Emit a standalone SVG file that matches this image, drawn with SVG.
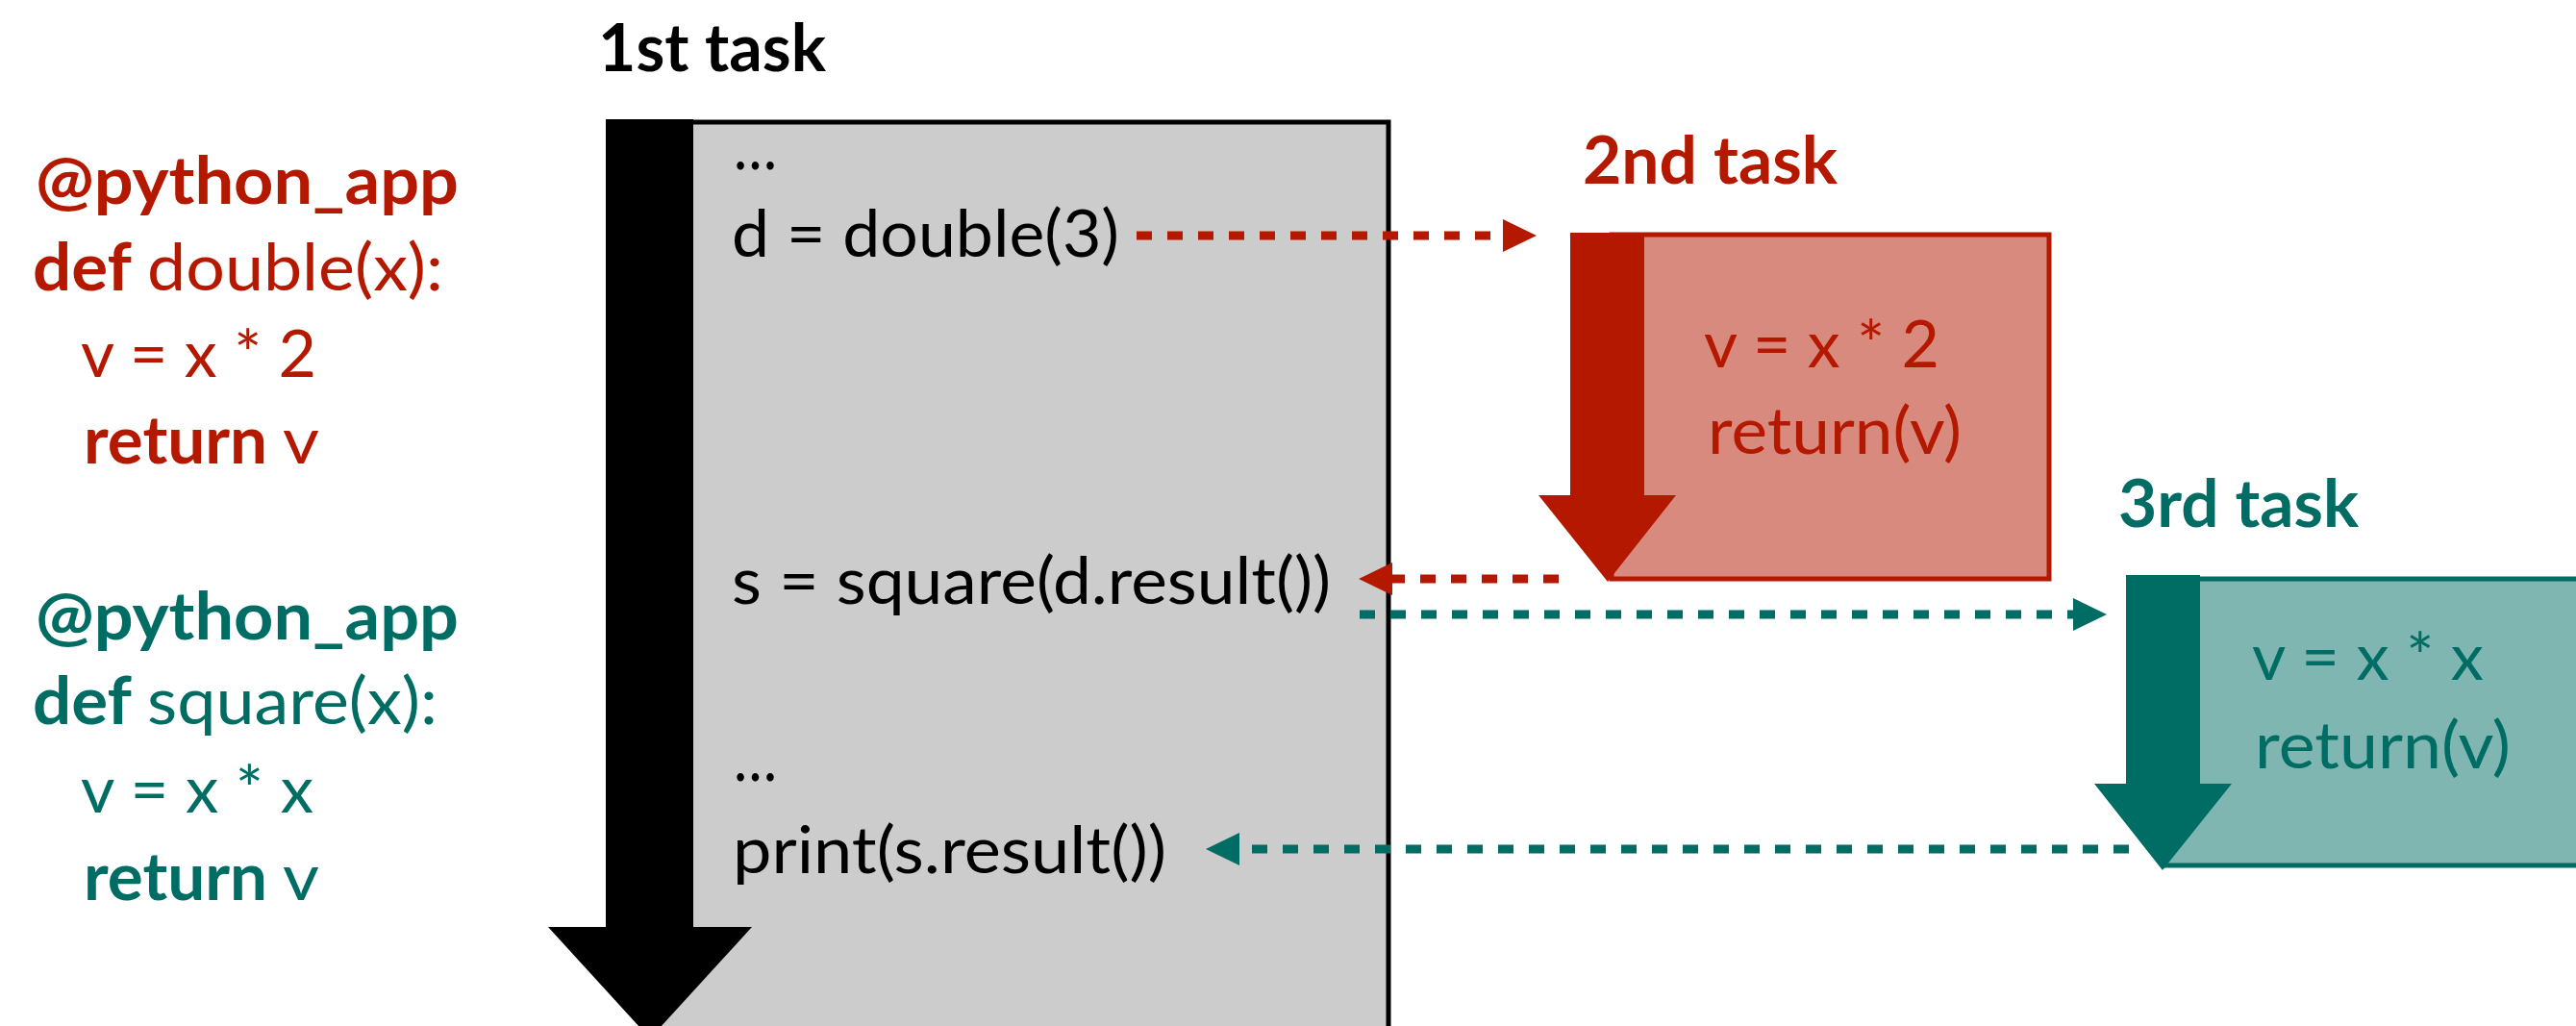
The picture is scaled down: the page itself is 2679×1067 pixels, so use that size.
<svg xmlns="http://www.w3.org/2000/svg" width="2679" height="1067" viewBox="0 0 2679 1067">
<style>
.t{font-family:Lato,"Liberation Sans",sans-serif;font-size:68px}
.b{font-weight:700}
.k{fill:#000}
.r{fill:#B41900}
.g{fill:#006D64}
.dr{fill:none;stroke:#B41900;stroke-width:9;stroke-dasharray:16 16}
.dg{fill:none;stroke:#006D64;stroke-width:9;stroke-dasharray:16 16}
</style>
<defs>
<marker id="ahR" viewBox="0 0 35 34" markerUnits="userSpaceOnUse" markerWidth="35" markerHeight="34" refX="0" refY="17" orient="auto"><path d="M0,0 L35,17 L0,34 Z" fill="#B41900"/></marker>
<marker id="ahG" viewBox="0 0 35 34" markerUnits="userSpaceOnUse" markerWidth="35" markerHeight="34" refX="0" refY="17" orient="auto"><path d="M0,0 L35,17 L0,34 Z" fill="#006D64"/></marker>
</defs>
<rect width="2679" height="1067" fill="#fff"/>

<g id="code-double">
<text class="t b r" x="37" y="212" textLength="440" lengthAdjust="spacingAndGlyphs">@python_app</text>
<text class="t b r" x="34" y="302" textLength="103" lengthAdjust="spacingAndGlyphs">def</text>
<text class="t r" x="153" y="302" textLength="308" lengthAdjust="spacingAndGlyphs">double(x):</text>
<text class="t r" x="84" y="392" textLength="245" lengthAdjust="spacingAndGlyphs">v = x * 2</text>
<text class="t b r" x="87" y="482" textLength="191" lengthAdjust="spacingAndGlyphs">return</text>
<text class="t r" x="294" y="482" textLength="38" lengthAdjust="spacingAndGlyphs">v</text>
</g>

<g id="code-square">
<text class="t b g" x="37" y="665" textLength="440" lengthAdjust="spacingAndGlyphs">@python_app</text>
<text class="t b g" x="34" y="753" textLength="103" lengthAdjust="spacingAndGlyphs">def</text>
<text class="t g" x="153" y="753" textLength="302" lengthAdjust="spacingAndGlyphs">square(x):</text>
<text class="t g" x="84" y="845" textLength="242" lengthAdjust="spacingAndGlyphs">v = x * x</text>
<text class="t b g" x="87" y="936" textLength="191" lengthAdjust="spacingAndGlyphs">return</text>
<text class="t g" x="294" y="936" textLength="38" lengthAdjust="spacingAndGlyphs">v</text>
</g>

<g id="task1">
<text class="t b k" x="622" y="74" textLength="237" lengthAdjust="spacingAndGlyphs">1st task</text>
<rect x="676" y="127" width="768" height="1000" fill="#CCCCCC" stroke="#000" stroke-width="5"/>
<path d="M630,124 H721 V964 H782 L676,1080 L570,964 H630 Z" fill="#000"/>
<text class="t k" x="763" y="176" textLength="45" lengthAdjust="spacingAndGlyphs">…</text>
<text class="t k" x="761" y="267" textLength="403" lengthAdjust="spacingAndGlyphs">d = double(3)</text>
<text class="t k" x="761" y="628" textLength="623" lengthAdjust="spacingAndGlyphs">s = square(d.result())</text>
<text class="t k" x="763" y="812" textLength="45" lengthAdjust="spacingAndGlyphs">…</text>
<text class="t k" x="762" y="908" textLength="451" lengthAdjust="spacingAndGlyphs">print(s.result())</text>
</g>

<g id="task2">
<text class="t b r" x="1646" y="191" textLength="265" lengthAdjust="spacingAndGlyphs">2nd task</text>
<rect x="1676" y="244" width="455" height="358" fill="#D98A7E" stroke="#B41900" stroke-width="5"/>
<path d="M1633,242 H1710 V515 H1743 L1672,605 L1600,515 H1633 Z" fill="#B41900"/>
<text class="t r" x="1772" y="382" textLength="245" lengthAdjust="spacingAndGlyphs">v = x * 2</text>
<text class="t r" x="1776" y="472" textLength="264" lengthAdjust="spacingAndGlyphs">return(v)</text>
</g>

<g id="task3">
<text class="t b g" x="2203" y="548" textLength="250" lengthAdjust="spacingAndGlyphs">3rd task</text>
<rect x="2250" y="602" width="460" height="298" fill="#80B6B1" stroke="#006D64" stroke-width="5"/>
<path d="M2211,598 H2288 V815 H2321 L2249,905 L2178,815 H2211 Z" fill="#006D64"/>
<text class="t g" x="2342" y="707" textLength="241" lengthAdjust="spacingAndGlyphs">v = x * x</text>
<text class="t g" x="2345" y="799" textLength="266" lengthAdjust="spacingAndGlyphs">return(v)</text>
</g>

<g id="connectors">
<path class="dr" d="M1182,245 H1563" marker-end="url(#ahR)"/>
<path class="dr" d="M1621,602 H1448" marker-end="url(#ahR)"/>
<path class="dg" d="M1414,639 H2156" marker-end="url(#ahG)"/>
<path class="dg" d="M2214,883 H1289" marker-end="url(#ahG)"/>
</g>
</svg>
